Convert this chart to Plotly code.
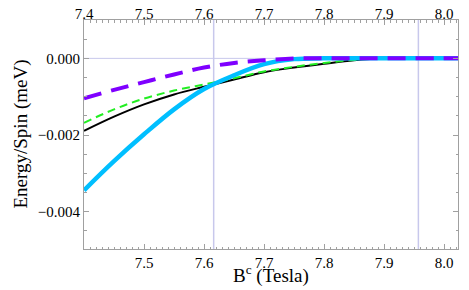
import plotly.graph_objects as go

B = [7.40, 7.45, 7.50, 7.55, 7.60, 7.65, 7.70, 7.75, 7.80, 7.85, 7.90, 7.95, 8.00, 8.03]

black = [-0.00189, -0.00152, -0.00120, -0.00094, -0.00074, -0.00055, -0.00036, -0.00024,
         -0.00014, -0.00005, 0.0, 0.0, 0.0, 0.0]
green = [-0.00168, -0.00133, -0.00105, -0.00084, -0.00068, -0.00052, -0.00034, -0.00022,
         -0.00012, -0.00004, 0.0, 0.0, 0.0, 0.0]
blue = [-0.00344, -0.00268, -0.00198, -0.00133, -0.00080, -0.00044, -0.00015, -0.00002,
        0.0, 0.0, 0.0, 0.0, 0.0, 0.0]
purple = [-0.00104, -0.00082, -0.00062, -0.00042, -0.00024, -0.00012, -0.00005, 0.0,
          0.0, 0.0, 0.0, 0.0, 0.0, 0.0]

vlines = [7.616, 7.957]
xticks_top = [7.4, 7.5, 7.6, 7.7, 7.8, 7.9, 8.0]
xticks_bottom = [7.5, 7.6, 7.7, 7.8, 7.9, 8.0]
yticks = [0.0, -0.002, -0.004]
ytick_text = ["0.000", "\u22120.002", "\u22120.004"]

xr = [7.4, 8.023]
yr = [-0.00497, 0.001]
font = "Liberation Serif, Times New Roman, serif"
frame = "#a0a0a0"
grid = "#c8c8ec"

fig = go.Figure()
fig.add_trace(go.Scatter(x=B, y=black, mode="lines", line=dict(color="black", width=2, shape="spline"), showlegend=False))
fig.add_trace(go.Scatter(x=B, y=green, mode="lines", line=dict(color="#22ee22", width=2, dash="8px,5px", shape="spline"), showlegend=False))
fig.add_trace(go.Scatter(x=B, y=blue, mode="lines", line=dict(color="#00bfff", width=4.5, shape="spline"), showlegend=False))
fig.add_trace(go.Scatter(x=B, y=purple, mode="lines", line=dict(color="#7f00ff", width=4, dash="18px,10px", shape="spline"), showlegend=False))
fig.add_trace(go.Scatter(x=[xr[0]], y=[yr[0]], xaxis="x2", mode="markers", marker=dict(opacity=0), showlegend=False, hoverinfo="skip"))

for v in vlines:
    fig.add_shape(type="line", x0=v, x1=v, y0=0, y1=1, xref="x", yref="paper",
                  line=dict(color=grid, width=1.5), layer="below")
fig.add_shape(type="line", x0=0, x1=1, y0=0, y1=0, xref="paper", yref="y",
              line=dict(color=grid, width=1), layer="below")

fig.add_annotation(text="B<sup>c</sup> (Tesla)", xref="paper", yref="paper", x=0.5, y=0,
                   xanchor="center", yanchor="middle", yshift=-25, showarrow=False,
                   font=dict(family=font, size=19, color="black"))
fig.add_annotation(text="Energy/Spin (meV)", xref="paper", yref="paper", x=0, y=0.5,
                   xanchor="center", yanchor="middle", xshift=-64, textangle=-90, showarrow=False,
                   font=dict(family=font, size=19, color="black"))

tickfont = dict(family=font, size=15, color="black")
common = dict(ticks="inside", ticklen=5, tickcolor=frame, showline=True, linecolor=frame, linewidth=1,
              showgrid=False, zeroline=False, tickfont=tickfont, automargin=False)
xminor = dict(dtick=0.01, ticks="inside", ticklen=2.5, tickcolor=frame, showgrid=False)
# page body has an 8px margin, so the figure is sized/offset to compensate
fig.update_layout(
    width=461, height=282,
    margin=dict(l=76, r=11, t=12, b=41, autoexpand=False),
    paper_bgcolor="white", plot_bgcolor="white",
    font=dict(family=font),
    xaxis=dict(range=xr, tickvals=xticks_bottom, ticktext=[f"{v:.1f}" for v in xticks_bottom],
               minor=xminor, **common),
    xaxis2=dict(range=xr, overlaying="x", side="top", tickvals=xticks_top,
                ticktext=[f"{v:.1f}" for v in xticks_top], ticklabelstandoff=-6,
                minor=xminor, **common),
    yaxis=dict(range=yr, tickvals=yticks, ticktext=ytick_text, mirror="ticks",
               minor=dict(dtick=0.0005, ticks="inside", ticklen=2.5, tickcolor=frame, showgrid=False), **common),
)

fig.write_html("out.html")
